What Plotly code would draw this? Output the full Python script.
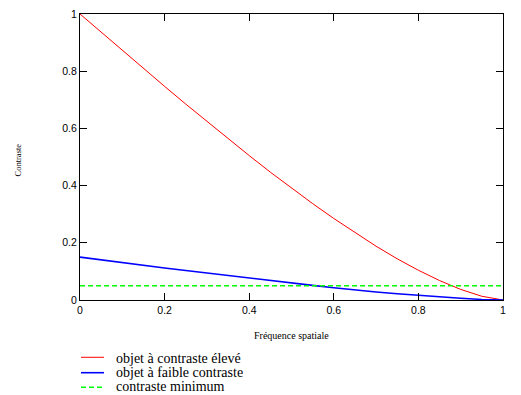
import plotly.graph_objects as go

freq = [0.0, 0.05, 0.1, 0.15, 0.2, 0.25, 0.3, 0.35, 0.4, 0.45, 0.5,
        0.55, 0.6, 0.65, 0.7, 0.75, 0.8, 0.85, 0.9, 0.95, 1.0]
contraste_eleve = [1.000, 0.936, 0.873, 0.810, 0.747, 0.685, 0.624, 0.564, 0.505, 0.447, 0.391,
                   0.337, 0.285, 0.235, 0.188, 0.144, 0.104, 0.068, 0.037, 0.013, 0.000]
contraste_faible = [0.150, 0.140, 0.131, 0.121, 0.112, 0.103, 0.094, 0.085, 0.076, 0.067, 0.059,
                    0.051, 0.043, 0.035, 0.028, 0.022, 0.016, 0.010, 0.006, 0.002, 0.000]
seuil_x = [0.0, 1.0]
seuil_y = [0.05, 0.05]

names = ["objet à contraste élevé", "objet à faible contraste", "contraste minimum"]
colors = ["#ff0000", "#0000ff", "#00ff00"]
widths = [1, 1.6, 1.6]
dashes = ["solid", "solid", "5px,3px"]
tick_vals = [0, 0.2, 0.4, 0.6, 0.8, 1]
tick_text = ["0", "0.2", "0.4", "0.6", "0.8", "1"]

fig = go.Figure()
fig.add_trace(go.Scatter(x=freq, y=contraste_eleve, mode="lines", name=names[0],
                         line=dict(color=colors[0], width=widths[0], dash=dashes[0])))
fig.add_trace(go.Scatter(x=freq, y=contraste_faible, mode="lines", name=names[1],
                         line=dict(color=colors[1], width=widths[1], dash=dashes[1])))
fig.add_trace(go.Scatter(x=seuil_x, y=seuil_y, mode="lines", name=names[2],
                         line=dict(color=colors[2], width=widths[2], dash=dashes[2])))

axis_common = dict(range=[0, 1], showgrid=False, zeroline=False, showline=True,
                   linecolor="black", linewidth=1.3, mirror="ticks", ticks="inside",
                   ticklen=7, tickwidth=1.3, tickcolor="black",
                   tickvals=tick_vals, ticktext=tick_text, ticklabeloverflow="allow",
                   tickfont=dict(family="Liberation Sans", size=10.5, color="black"))

# Legend drawn below the plot (compact row spacing like the original)
legend_line_rows = [-0.2003, -0.2542, -0.3052]
legend_text_rows = [-0.2028, -0.2552, -0.3015]
shapes = []
annotations = [
    dict(text="Fréquence spatiale", x=0.499, y=-0.1224, xref="paper", yref="paper",
         showarrow=False, font=dict(family="Liberation Serif", size=10, color="black"),
         xanchor="center", yanchor="middle"),
    dict(text="Contraste", x=-0.1454, y=0.4895, xref="paper", yref="paper",
         showarrow=False, textangle=-90,
         font=dict(family="Liberation Serif", size=8.5, color="black"),
         xanchor="center", yanchor="middle"),
]
for name, col, w, d, ly, ty in zip(names, colors, widths, dashes,
                                   legend_line_rows, legend_text_rows):
    shapes.append(dict(type="line", xref="paper", yref="paper", x0=0.0024, x1=0.0567,
                       y0=ly, y1=ly, line=dict(color=col, width=w, dash=d)))
    annotations.append(dict(text=name, x=0.0804, y=ty, xref="paper", yref="paper",
                            showarrow=False, xanchor="left", yanchor="middle",
                            font=dict(family="Liberation Serif", size=14, color="black")))

fig.update_layout(
    width=513, height=387,
    margin=dict(l=72, r=18, t=6, b=95, autoexpand=False),
    paper_bgcolor="white", plot_bgcolor="white",
    xaxis=axis_common,
    yaxis=axis_common,
    showlegend=False,
    shapes=shapes,
    annotations=annotations,
)

fig.write_html("out.html")
